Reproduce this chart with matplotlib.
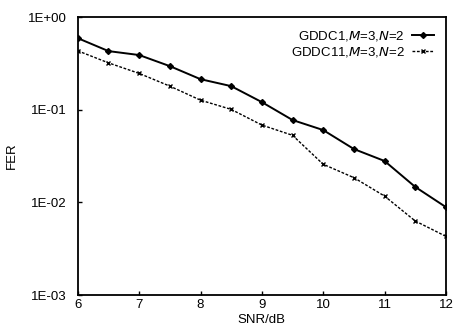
import matplotlib
matplotlib.use("Agg")
import matplotlib.pyplot as plt
from matplotlib.ticker import FixedLocator, FuncFormatter, NullLocator

plt.rcParams['font.family'] = ['Liberation Sans', 'DejaVu Sans']

snr = [6, 6.5, 7, 7.5, 8, 8.5, 9, 9.5, 10, 10.5, 11, 11.5, 12]
fer_gddc1 = [0.593, 0.43, 0.39, 0.296, 0.214, 0.18, 0.121, 0.0775, 0.0604, 0.0377, 0.028, 0.0147, 0.0089]
fer_gddc11 = [0.433, 0.321, 0.247, 0.18, 0.127, 0.101, 0.0684, 0.053, 0.0258, 0.0185, 0.0117, 0.0063, 0.0043]
x_ticks = [6, 7, 8, 9, 10, 11, 12]
y_ticks = [1e-3, 1e-2, 1e-1, 1e0]
y_tick_labels = ['1E-03', '1E-02', '1E-01', '1E+00']

FS = 9.5

fig = plt.figure(figsize=(4.55, 3.3), dpi=100)
ax = fig.add_axes([0.171, 0.106, 0.809, 0.842])

ax.plot(snr, fer_gddc1, '-', color='black', lw=1.4, marker='D', ms=3.0,
        label='GDDC1,$\\it{M}$=3,$\\it{N}$=2')
ax.plot(snr, fer_gddc11, color='black', lw=1.0, ls=(0, (2, 1.2)), marker='x', ms=2.5, mew=1,
        label='GDDC11,$\\it{M}$=3,$\\it{N}$=2')

ax.set_yscale('log')
ax.set_xlim(6, 12)
ax.set_ylim(1e-3, 1e0)
ax.xaxis.set_major_locator(FixedLocator(x_ticks))
ax.yaxis.set_major_locator(FixedLocator(y_ticks))
ax.yaxis.set_minor_locator(NullLocator())
ax.yaxis.set_major_formatter(FuncFormatter(lambda v, p: y_tick_labels[y_ticks.index(min(y_ticks, key=lambda t: abs(t - v)))]))
ax.tick_params(direction='in', length=3, width=1, labelsize=FS)
ax.tick_params(axis='x', pad=3)
ax.tick_params(axis='y', pad=8)
for s in ax.spines.values():
    s.set_linewidth(1.3)
ax.set_xlabel('SNR/dB', fontsize=FS, labelpad=2)
ax.set_ylabel('FER', fontsize=FS, labelpad=7)

leg = ax.legend(loc='upper right', frameon=False, markerfirst=False, fontsize=FS,
                handlelength=1.7, handletextpad=0.5, borderaxespad=0.5, labelspacing=0.15)

fig.savefig('out.png', dpi=100)
